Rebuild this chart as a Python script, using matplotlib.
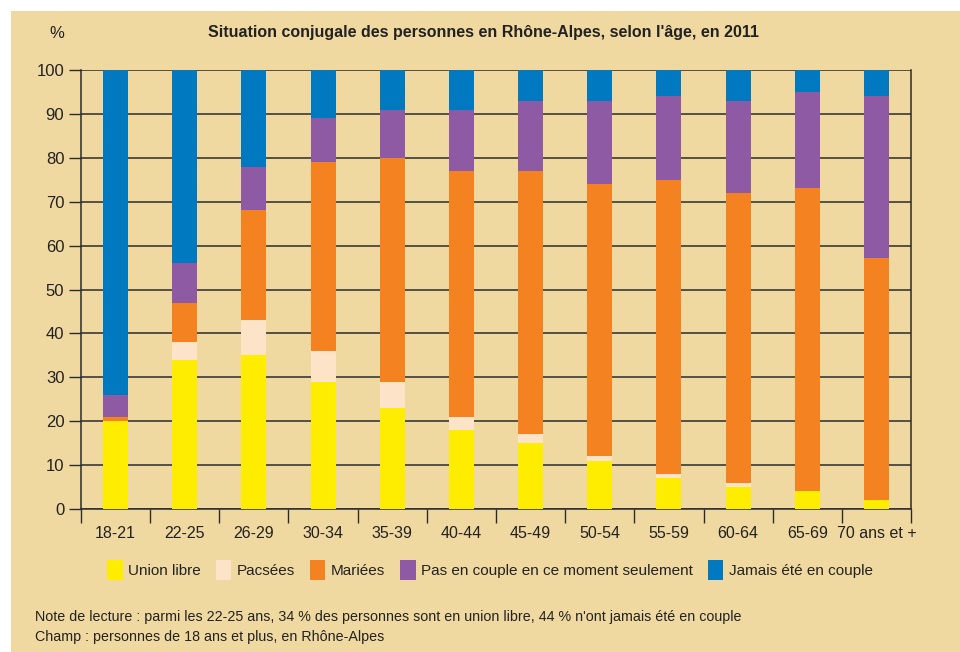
import numpy as np
import matplotlib.pyplot as plt
from matplotlib.patches import Rectangle, Patch

# Data (in %)
ages = ['18-21', '22-25', '26-29', '30-34', '35-39', '40-44',
        '45-49', '50-54', '55-59', '60-64', '65-69', '70 ans et +']
union_libre = [20, 34, 35, 29, 23, 18, 15, 11, 7, 5, 4, 2]
pacsees = [0, 4, 8, 7, 6, 3, 2, 1, 1, 1, 0.1, 0.1]
mariees = [1, 9, 25, 43, 51, 56, 60, 62, 67, 66, 69, 55]
pas_en_couple = [5, 9, 10, 10, 11, 14, 16, 19, 19, 21, 22, 37]
jamais = [74, 44, 22, 11, 9, 9, 7, 7, 6, 7, 5, 6]

series = [union_libre, pacsees, mariees, pas_en_couple, jamais]
names = ['Union libre', 'Pacsées', 'Mariées',
         'Pas en couple en ce moment seulement', 'Jamais été en couple']
colors = ['#FFED00', '#FDE4C8', '#F58220', '#8E5AA4', '#0079C1']

bg = '#F0D9A0'
dark = '#2b2b2b'
txt = '#222222'
plt.rcParams['font.family'] = ['Liberation Sans', 'DejaVu Sans']

fig = plt.figure(figsize=(9.6, 6.52), dpi=100, facecolor='white')
fig.patches.append(Rectangle((11 / 960, 0), 1, 1 - 11 / 652, transform=fig.transFigure,
                             facecolor=bg, edgecolor='none', zorder=-10))

ax = fig.add_axes([81 / 960, 1 - 509 / 652, 830 / 960, 439 / 652])
ax.set_facecolor(bg)

x = np.arange(len(ages))
bottom = np.zeros(len(ages))
for vals, name, c in zip(series, names, colors):
    ax.bar(x, vals, width=0.36, bottom=bottom, color=c, label=name, zorder=3)
    bottom += np.array(vals)

ax.set_xlim(-0.5, len(ages) - 0.5)
ax.set_ylim(0, 100)
ax.set_yticks(np.arange(0, 101, 10))
ax.tick_params(axis='y', length=9, width=1, color=dark, labelsize=12, labelcolor=txt, pad=3)
ax.grid(axis='y', color=dark, linewidth=1.1, zorder=1)
ax.set_axisbelow(True)

# category boundaries as major ticks, labels on minor ticks
ax.set_xticks(np.arange(-0.5, len(ages), 1))
ax.set_xticklabels([])
ax.tick_params(axis='x', which='major', length=10, width=1, color=dark)
ax.set_xticks(x, minor=True)
ax.set_xticklabels(ages, minor=True)
ax.tick_params(axis='x', which='minor', length=0, labelsize=11.5, labelcolor=txt, pad=12)

for s in ax.spines.values():
    s.set_color(dark)
    s.set_linewidth(1.1)
ax.spines['top'].set_visible(False)

fig.text(57 / 960, 1 - 33 / 652, '%', fontsize=12, color=txt, ha='center', va='center')
fig.text(483 / 960, 1 - 33 / 652,
         "Situation conjugale des personnes en Rhône-Alpes, selon l'âge, en 2011",
         fontsize=11.5, fontweight='bold', color=txt, ha='center', va='center')

handles = [Patch(facecolor=c, edgecolor='none') for c in colors]
fig.legend(handles, names, loc='center', bbox_to_anchor=(490 / 960, 1 - 570 / 652), ncol=5,
           frameon=False, fontsize=11, handlelength=1.0, handleheight=1.6,
           handletextpad=0.35, columnspacing=1.0, labelcolor=txt)

fig.text(35 / 960, 1 - 617 / 652,
         "Note de lecture : parmi les 22-25 ans, 34 % des personnes sont en union libre, "
         "44 % n'ont jamais été en couple",
         fontsize=10.3, color=txt, ha='left', va='center')
fig.text(35 / 960, 1 - 637 / 652, "Champ : personnes de 18 ans et plus, en Rhône-Alpes",
         fontsize=10.3, color=txt, ha='left', va='center')

fig.savefig('out.png', dpi=100, facecolor=fig.get_facecolor())
